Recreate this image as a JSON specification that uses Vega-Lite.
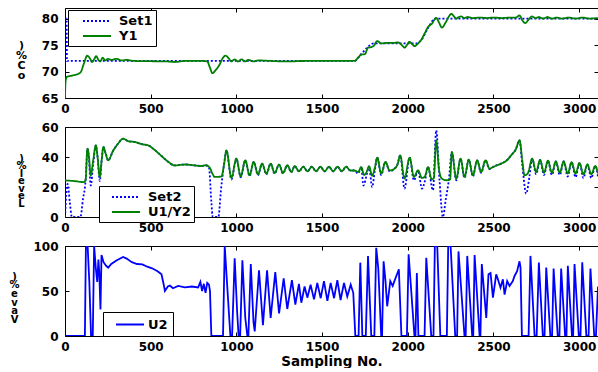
{
"$schema":"https://vega.github.io/schema/vega-lite/v6.json",
"padding":{"left":8,"top":7,"right":0,"bottom":0},
"background":"white",
"spacing":29,
"bounds":"flush",
"resolve":{"scale":{"color":"independent","strokeDash":"independent"},"legend":{"color":"independent","strokeDash":"independent"}},
"datasets":{
"p1":[
{"k":"Set1","x":0,"y":80},{"k":"Set1","x":10,"y":80},{"k":"Set1","x":11,"y":72},{"k":"Set1","x":1690,"y":72},{"k":"Set1","x":1720,"y":73},{"k":"Set1","x":1760,"y":74.4},{"k":"Set1","x":1800,"y":75.3},{"k":"Set1","x":2050,"y":75.3},{"k":"Set1","x":2080,"y":76},{"k":"Set1","x":2120,"y":78.3},{"k":"Set1","x":2160,"y":80},{"k":"Set1","x":3110,"y":80},
{"k":"Y1","x":0,"y":65},{"k":"Y1","x":3,"y":68},{"k":"Y1","x":10,"y":69},{"k":"Y1","x":50,"y":69.3},{"k":"Y1","x":90,"y":69.8},{"k":"Y1","x":110,"y":71.5},{"k":"Y1","x":130,"y":73},{"k":"Y1","x":145,"y":72.5},{"k":"Y1","x":158,"y":71.8},{"k":"Y1","x":170,"y":72.3},{"k":"Y1","x":182,"y":72.9},{"k":"Y1","x":195,"y":72.2},{"k":"Y1","x":205,"y":71.9},{"k":"Y1","x":220,"y":72.6},{"k":"Y1","x":235,"y":72.1},{"k":"Y1","x":250,"y":72.4},{"k":"Y1","x":270,"y":72.2},{"k":"Y1","x":300,"y":72.4},{"k":"Y1","x":330,"y":72.1},{"k":"Y1","x":360,"y":72.2},{"k":"Y1","x":400,"y":72},{"k":"Y1","x":500,"y":71.95},{"k":"Y1","x":600,"y":71.9},{"k":"Y1","x":640,"y":71.8},{"k":"Y1","x":700,"y":72},{"k":"Y1","x":800,"y":72},{"k":"Y1","x":830,"y":71.9},{"k":"Y1","x":845,"y":70.8},{"k":"Y1","x":860,"y":69.7},{"k":"Y1","x":880,"y":70.3},{"k":"Y1","x":900,"y":71.2},{"k":"Y1","x":920,"y":72.5},{"k":"Y1","x":936,"y":73},{"k":"Y1","x":955,"y":72.5},{"k":"Y1","x":970,"y":71.9},{"k":"Y1","x":990,"y":72.3},{"k":"Y1","x":1010,"y":71.9},{"k":"Y1","x":1030,"y":72.3},{"k":"Y1","x":1050,"y":71.9},{"k":"Y1","x":1070,"y":72.2},{"k":"Y1","x":1100,"y":71.9},{"k":"Y1","x":1130,"y":72.1},{"k":"Y1","x":1200,"y":72},{"k":"Y1","x":1300,"y":71.9},{"k":"Y1","x":1400,"y":72},{"k":"Y1","x":1500,"y":72},{"k":"Y1","x":1600,"y":72},{"k":"Y1","x":1690,"y":72},{"k":"Y1","x":1710,"y":72.6},{"k":"Y1","x":1730,"y":73.2},{"k":"Y1","x":1750,"y":73.3},{"k":"Y1","x":1768,"y":74.5},{"k":"Y1","x":1785,"y":74.6},{"k":"Y1","x":1800,"y":74.8},{"k":"Y1","x":1822,"y":75.75},{"k":"Y1","x":1845,"y":75.3},{"k":"Y1","x":1880,"y":75.4},{"k":"Y1","x":1920,"y":75.4},{"k":"Y1","x":1943,"y":75.5},{"k":"Y1","x":1965,"y":75},{"k":"Y1","x":1981,"y":74.5},{"k":"Y1","x":1995,"y":75},{"k":"Y1","x":2010,"y":75.6},{"k":"Y1","x":2025,"y":75.2},{"k":"Y1","x":2040,"y":74.8},{"k":"Y1","x":2060,"y":75.3},{"k":"Y1","x":2079,"y":76},{"k":"Y1","x":2100,"y":77.3},{"k":"Y1","x":2118,"y":78.4},{"k":"Y1","x":2140,"y":79},{"k":"Y1","x":2166,"y":80.15},{"k":"Y1","x":2183,"y":79.2},{"k":"Y1","x":2199,"y":78.3},{"k":"Y1","x":2220,"y":79.2},{"k":"Y1","x":2240,"y":80.4},{"k":"Y1","x":2254,"y":80.9},{"k":"Y1","x":2270,"y":80.4},{"k":"Y1","x":2283,"y":80},{"k":"Y1","x":2298,"y":80.3},{"k":"Y1","x":2312,"y":80.4},{"k":"Y1","x":2330,"y":80.1},{"k":"Y1","x":2350,"y":80.3},{"k":"Y1","x":2380,"y":80.1},{"k":"Y1","x":2420,"y":80.2},{"k":"Y1","x":2460,"y":80.1},{"k":"Y1","x":2500,"y":80.2},{"k":"Y1","x":2550,"y":80.1},{"k":"Y1","x":2600,"y":80.2},{"k":"Y1","x":2630,"y":80.2},{"k":"Y1","x":2652,"y":80.6},{"k":"Y1","x":2668,"y":79.7},{"k":"Y1","x":2685,"y":79.15},{"k":"Y1","x":2705,"y":79.8},{"k":"Y1","x":2724,"y":80.4},{"k":"Y1","x":2745,"y":80.1},{"k":"Y1","x":2765,"y":80.3},{"k":"Y1","x":2790,"y":80},{"k":"Y1","x":2815,"y":80.3},{"k":"Y1","x":2840,"y":80},{"k":"Y1","x":2870,"y":80.2},{"k":"Y1","x":2900,"y":80},{"k":"Y1","x":2940,"y":80.2},{"k":"Y1","x":2980,"y":80},{"k":"Y1","x":3020,"y":80.2},{"k":"Y1","x":3060,"y":80},{"k":"Y1","x":3110,"y":80.1}
],
"p2":[
{"k":"Set2","x":0,"y":0},{"k":"Set2","x":15,"y":22},{"k":"Set2","x":28,"y":10},{"k":"Set2","x":40,"y":0},{"k":"Set2","x":90,"y":0},{"k":"Set2","x":105,"y":12},{"k":"Set2","x":120,"y":24},{"k":"Set2","x":131,"y":45.6},{"k":"Set2","x":140,"y":38},{"k":"Set2","x":150,"y":21},{"k":"Set2","x":165,"y":36},{"k":"Set2","x":180,"y":47.8},{"k":"Set2","x":190,"y":40},{"k":"Set2","x":203,"y":24},{"k":"Set2","x":214,"y":38},{"k":"Set2","x":224,"y":46.7},{"k":"Set2","x":238,"y":42},{"k":"Set2","x":252,"y":37.8},{"k":"Set2","x":280,"y":44},{"k":"Set2","x":310,"y":49},{"k":"Set2","x":339,"y":52.2},{"k":"Set2","x":370,"y":50.5},{"k":"Set2","x":408,"y":50},{"k":"Set2","x":450,"y":48.5},{"k":"Set2","x":485,"y":47.8},{"k":"Set2","x":520,"y":45},{"k":"Set2","x":560,"y":41},{"k":"Set2","x":600,"y":37},{"k":"Set2","x":640,"y":34.4},{"k":"Set2","x":700,"y":35},{"k":"Set2","x":750,"y":34.5},{"k":"Set2","x":796,"y":34},{"k":"Set2","x":820,"y":34.5},{"k":"Set2","x":840,"y":33},{"k":"Set2","x":854,"y":10},{"k":"Set2","x":862,"y":0},{"k":"Set2","x":895,"y":0},{"k":"Set2","x":910,"y":18},{"k":"Set2","x":928,"y":35},{"k":"Set2","x":942,"y":44.4},{"k":"Set2","x":971,"y":25},{"k":"Set2","x":1000,"y":38.9},{"k":"Set2","x":1025,"y":26.5},{"k":"Set2","x":1052,"y":37.8},{"k":"Set2","x":1077,"y":27.3},{"k":"Set2","x":1101,"y":36.7},{"k":"Set2","x":1126,"y":28},{"k":"Set2","x":1150,"y":35.6},{"k":"Set2","x":1175,"y":28.5},{"k":"Set2","x":1200,"y":35.6},{"k":"Set2","x":1223,"y":29},{"k":"Set2","x":1249,"y":34.9},{"k":"Set2","x":1272,"y":29},{"k":"Set2","x":1297,"y":34.5},{"k":"Set2","x":1321,"y":29.8},{"k":"Set2","x":1340,"y":34},{"k":"Set2","x":1365,"y":30.3},{"k":"Set2","x":1390,"y":33.5},{"k":"Set2","x":1415,"y":30.5},{"k":"Set2","x":1440,"y":33.5},{"k":"Set2","x":1465,"y":30.5},{"k":"Set2","x":1490,"y":33.5},{"k":"Set2","x":1515,"y":30.5},{"k":"Set2","x":1540,"y":33.5},{"k":"Set2","x":1565,"y":30.5},{"k":"Set2","x":1590,"y":33.5},{"k":"Set2","x":1615,"y":30.5},{"k":"Set2","x":1640,"y":33.5},{"k":"Set2","x":1665,"y":31},{"k":"Set2","x":1690,"y":31},{"k":"Set2","x":1710,"y":29},{"k":"Set2","x":1729,"y":33.3},{"k":"Set2","x":1741,"y":21},{"k":"Set2","x":1760,"y":28},{"k":"Set2","x":1774,"y":33.8},{"k":"Set2","x":1792,"y":20},{"k":"Set2","x":1808,"y":31},{"k":"Set2","x":1822,"y":39.6},{"k":"Set2","x":1845,"y":28},{"k":"Set2","x":1870,"y":36.7},{"k":"Set2","x":1894,"y":30.5},{"k":"Set2","x":1920,"y":32},{"k":"Set2","x":1940,"y":35},{"k":"Set2","x":1956,"y":41.1},{"k":"Set2","x":1981,"y":18.9},{"k":"Set2","x":2011,"y":39.6},{"k":"Set2","x":2036,"y":24.4},{"k":"Set2","x":2060,"y":31.1},{"k":"Set2","x":2083,"y":18.9},{"k":"Set2","x":2100,"y":24},{"k":"Set2","x":2118,"y":33.3},{"k":"Set2","x":2147,"y":17.8},{"k":"Set2","x":2166,"y":57.8},{"k":"Set2","x":2185,"y":25},{"k":"Set2","x":2205,"y":0},{"k":"Set2","x":2222,"y":12},{"k":"Set2","x":2240,"y":25},{"k":"Set2","x":2257,"y":43.3},{"k":"Set2","x":2283,"y":24.5},{"k":"Set2","x":2308,"y":38.9},{"k":"Set2","x":2331,"y":26},{"k":"Set2","x":2356,"y":38.2},{"k":"Set2","x":2380,"y":27},{"k":"Set2","x":2405,"y":37.8},{"k":"Set2","x":2428,"y":29.5},{"k":"Set2","x":2454,"y":37.8},{"k":"Set2","x":2477,"y":32},{"k":"Set2","x":2500,"y":33.5},{"k":"Set2","x":2545,"y":35.6},{"k":"Set2","x":2580,"y":38},{"k":"Set2","x":2603,"y":41.1},{"k":"Set2","x":2630,"y":45},{"k":"Set2","x":2652,"y":51.1},{"k":"Set2","x":2668,"y":35},{"k":"Set2","x":2691,"y":15.6},{"k":"Set2","x":2710,"y":27},{"k":"Set2","x":2726,"y":38.9},{"k":"Set2","x":2749,"y":28.5},{"k":"Set2","x":2772,"y":38},{"k":"Set2","x":2795,"y":28},{"k":"Set2","x":2818,"y":37.5},{"k":"Set2","x":2841,"y":28},{"k":"Set2","x":2864,"y":37},{"k":"Set2","x":2887,"y":28},{"k":"Set2","x":2910,"y":37},{"k":"Set2","x":2933,"y":27},{"k":"Set2","x":2956,"y":36.5},{"k":"Set2","x":2979,"y":26.5},{"k":"Set2","x":3002,"y":36},{"k":"Set2","x":3025,"y":26},{"k":"Set2","x":3048,"y":35},{"k":"Set2","x":3071,"y":26},{"k":"Set2","x":3094,"y":34},{"k":"Set2","x":3110,"y":27},
{"k":"U1/Y2","x":0,"y":24.4},{"k":"U1/Y2","x":50,"y":24},{"k":"U1/Y2","x":110,"y":23.3},{"k":"U1/Y2","x":120,"y":24.5},{"k":"U1/Y2","x":131,"y":45.6},{"k":"U1/Y2","x":140,"y":40},{"k":"U1/Y2","x":150,"y":27.8},{"k":"U1/Y2","x":165,"y":38},{"k":"U1/Y2","x":180,"y":47.8},{"k":"U1/Y2","x":190,"y":40},{"k":"U1/Y2","x":203,"y":26.7},{"k":"U1/Y2","x":214,"y":38},{"k":"U1/Y2","x":224,"y":46.7},{"k":"U1/Y2","x":238,"y":42},{"k":"U1/Y2","x":252,"y":37.8},{"k":"U1/Y2","x":280,"y":44},{"k":"U1/Y2","x":310,"y":49},{"k":"U1/Y2","x":339,"y":52.2},{"k":"U1/Y2","x":370,"y":50.5},{"k":"U1/Y2","x":408,"y":50},{"k":"U1/Y2","x":450,"y":48.5},{"k":"U1/Y2","x":485,"y":47.8},{"k":"U1/Y2","x":520,"y":45},{"k":"U1/Y2","x":560,"y":41},{"k":"U1/Y2","x":600,"y":37},{"k":"U1/Y2","x":640,"y":34.4},{"k":"U1/Y2","x":700,"y":35},{"k":"U1/Y2","x":750,"y":34.5},{"k":"U1/Y2","x":796,"y":34},{"k":"U1/Y2","x":820,"y":34.5},{"k":"U1/Y2","x":844,"y":33},{"k":"U1/Y2","x":860,"y":29},{"k":"U1/Y2","x":873,"y":26.7},{"k":"U1/Y2","x":913,"y":27},{"k":"U1/Y2","x":928,"y":35},{"k":"U1/Y2","x":942,"y":44.4},{"k":"U1/Y2","x":971,"y":26.2},{"k":"U1/Y2","x":1000,"y":38.9},{"k":"U1/Y2","x":1025,"y":27.1},{"k":"U1/Y2","x":1052,"y":37.8},{"k":"U1/Y2","x":1077,"y":27.8},{"k":"U1/Y2","x":1101,"y":36.7},{"k":"U1/Y2","x":1126,"y":28.4},{"k":"U1/Y2","x":1150,"y":35.6},{"k":"U1/Y2","x":1175,"y":28.9},{"k":"U1/Y2","x":1200,"y":35.6},{"k":"U1/Y2","x":1223,"y":29.3},{"k":"U1/Y2","x":1249,"y":34.9},{"k":"U1/Y2","x":1272,"y":29.3},{"k":"U1/Y2","x":1297,"y":34.5},{"k":"U1/Y2","x":1321,"y":30},{"k":"U1/Y2","x":1340,"y":34},{"k":"U1/Y2","x":1365,"y":30.5},{"k":"U1/Y2","x":1390,"y":33.5},{"k":"U1/Y2","x":1415,"y":30.5},{"k":"U1/Y2","x":1440,"y":33.5},{"k":"U1/Y2","x":1465,"y":30.5},{"k":"U1/Y2","x":1490,"y":33.5},{"k":"U1/Y2","x":1515,"y":30.5},{"k":"U1/Y2","x":1540,"y":33.5},{"k":"U1/Y2","x":1565,"y":30.5},{"k":"U1/Y2","x":1590,"y":33.5},{"k":"U1/Y2","x":1615,"y":30.5},{"k":"U1/Y2","x":1640,"y":33.5},{"k":"U1/Y2","x":1665,"y":31},{"k":"U1/Y2","x":1690,"y":31},{"k":"U1/Y2","x":1710,"y":30},{"k":"U1/Y2","x":1729,"y":33.3},{"k":"U1/Y2","x":1745,"y":28},{"k":"U1/Y2","x":1760,"y":30},{"k":"U1/Y2","x":1774,"y":33.8},{"k":"U1/Y2","x":1792,"y":27.5},{"k":"U1/Y2","x":1808,"y":33},{"k":"U1/Y2","x":1822,"y":39.6},{"k":"U1/Y2","x":1845,"y":28.9},{"k":"U1/Y2","x":1870,"y":36.7},{"k":"U1/Y2","x":1894,"y":31},{"k":"U1/Y2","x":1920,"y":32},{"k":"U1/Y2","x":1940,"y":35},{"k":"U1/Y2","x":1956,"y":41.1},{"k":"U1/Y2","x":1981,"y":25.6},{"k":"U1/Y2","x":2011,"y":39.6},{"k":"U1/Y2","x":2036,"y":26.7},{"k":"U1/Y2","x":2060,"y":31.1},{"k":"U1/Y2","x":2083,"y":26},{"k":"U1/Y2","x":2100,"y":27},{"k":"U1/Y2","x":2118,"y":33.3},{"k":"U1/Y2","x":2140,"y":25},{"k":"U1/Y2","x":2152,"y":26},{"k":"U1/Y2","x":2166,"y":51.1},{"k":"U1/Y2","x":2182,"y":32},{"k":"U1/Y2","x":2199,"y":25.6},{"k":"U1/Y2","x":2225,"y":24.5},{"k":"U1/Y2","x":2247,"y":25},{"k":"U1/Y2","x":2257,"y":43.3},{"k":"U1/Y2","x":2283,"y":25.6},{"k":"U1/Y2","x":2308,"y":38.9},{"k":"U1/Y2","x":2331,"y":26.7},{"k":"U1/Y2","x":2356,"y":38.2},{"k":"U1/Y2","x":2380,"y":27.8},{"k":"U1/Y2","x":2405,"y":37.8},{"k":"U1/Y2","x":2428,"y":30},{"k":"U1/Y2","x":2454,"y":37.8},{"k":"U1/Y2","x":2477,"y":32.2},{"k":"U1/Y2","x":2500,"y":33.5},{"k":"U1/Y2","x":2545,"y":35.6},{"k":"U1/Y2","x":2580,"y":38},{"k":"U1/Y2","x":2603,"y":41.1},{"k":"U1/Y2","x":2630,"y":45},{"k":"U1/Y2","x":2652,"y":51.1},{"k":"U1/Y2","x":2668,"y":38},{"k":"U1/Y2","x":2681,"y":27.8},{"k":"U1/Y2","x":2700,"y":29},{"k":"U1/Y2","x":2726,"y":38.9},{"k":"U1/Y2","x":2749,"y":30},{"k":"U1/Y2","x":2772,"y":38},{"k":"U1/Y2","x":2795,"y":29.5},{"k":"U1/Y2","x":2818,"y":37.5},{"k":"U1/Y2","x":2841,"y":29.5},{"k":"U1/Y2","x":2864,"y":37},{"k":"U1/Y2","x":2887,"y":29.5},{"k":"U1/Y2","x":2910,"y":37},{"k":"U1/Y2","x":2933,"y":29},{"k":"U1/Y2","x":2956,"y":36.5},{"k":"U1/Y2","x":2979,"y":29},{"k":"U1/Y2","x":3002,"y":36},{"k":"U1/Y2","x":3025,"y":28.5},{"k":"U1/Y2","x":3048,"y":35},{"k":"U1/Y2","x":3071,"y":28.5},{"k":"U1/Y2","x":3094,"y":34},{"k":"U1/Y2","x":3110,"y":29}
],
"p3":[
{"k":"U2","x":0,"y":0},{"k":"U2","x":116,"y":0},{"k":"U2","x":122,"y":100},{"k":"U2","x":132,"y":100},{"k":"U2","x":142,"y":60},{"k":"U2","x":152,"y":0},{"k":"U2","x":162,"y":0},{"k":"U2","x":170,"y":100},{"k":"U2","x":180,"y":75},{"k":"U2","x":188,"y":60},{"k":"U2","x":195,"y":85},{"k":"U2","x":200,"y":70},{"k":"U2","x":207,"y":29.6},{"k":"U2","x":213,"y":90},{"k":"U2","x":225,"y":82},{"k":"U2","x":240,"y":78},{"k":"U2","x":252,"y":76},{"k":"U2","x":270,"y":80},{"k":"U2","x":300,"y":84},{"k":"U2","x":339,"y":87.8},{"k":"U2","x":360,"y":86},{"k":"U2","x":390,"y":82},{"k":"U2","x":420,"y":80},{"k":"U2","x":451,"y":79.6},{"k":"U2","x":480,"y":77},{"k":"U2","x":508,"y":75.2},{"k":"U2","x":540,"y":72},{"k":"U2","x":563,"y":68.5},{"k":"U2","x":575,"y":58},{"k":"U2","x":583,"y":50},{"k":"U2","x":600,"y":55},{"k":"U2","x":612,"y":56},{"k":"U2","x":630,"y":53},{"k":"U2","x":660,"y":55.6},{"k":"U2","x":700,"y":54},{"k":"U2","x":740,"y":55},{"k":"U2","x":777,"y":54},{"k":"U2","x":790,"y":60},{"k":"U2","x":800,"y":50},{"k":"U2","x":810,"y":58},{"k":"U2","x":820,"y":48},{"k":"U2","x":830,"y":59},{"k":"U2","x":840,"y":57},{"k":"U2","x":846,"y":50},{"k":"U2","x":854,"y":0},{"k":"U2","x":922,"y":0},{"k":"U2","x":932,"y":100},{"k":"U2","x":950,"y":45},{"k":"U2","x":965,"y":0},{"k":"U2","x":975,"y":0},{"k":"U2","x":990,"y":86.3},{"k":"U2","x":1005,"y":25},{"k":"U2","x":1013,"y":0},{"k":"U2","x":1022,"y":0},{"k":"U2","x":1035,"y":84},{"k":"U2","x":1052,"y":20},{"k":"U2","x":1064,"y":0},{"k":"U2","x":1070,"y":0},{"k":"U2","x":1084,"y":80},{"k":"U2","x":1100,"y":15},{"k":"U2","x":1107,"y":5},{"k":"U2","x":1132,"y":73},{"k":"U2","x":1155,"y":12},{"k":"U2","x":1179,"y":73},{"k":"U2","x":1200,"y":20},{"k":"U2","x":1227,"y":71},{"k":"U2","x":1249,"y":25},{"k":"U2","x":1276,"y":64},{"k":"U2","x":1297,"y":30},{"k":"U2","x":1324,"y":62},{"k":"U2","x":1344,"y":35},{"k":"U2","x":1365,"y":58},{"k":"U2","x":1379,"y":37},{"k":"U2","x":1398,"y":55},{"k":"U2","x":1414,"y":42.6},{"k":"U2","x":1433,"y":57},{"k":"U2","x":1453,"y":40.7},{"k":"U2","x":1472,"y":59},{"k":"U2","x":1492,"y":42},{"k":"U2","x":1511,"y":61},{"k":"U2","x":1531,"y":39},{"k":"U2","x":1550,"y":59},{"k":"U2","x":1570,"y":42},{"k":"U2","x":1589,"y":62},{"k":"U2","x":1608,"y":40},{"k":"U2","x":1628,"y":59},{"k":"U2","x":1647,"y":44},{"k":"U2","x":1667,"y":57},{"k":"U2","x":1682,"y":48},{"k":"U2","x":1694,"y":0},{"k":"U2","x":1713,"y":0},{"k":"U2","x":1723,"y":81.5},{"k":"U2","x":1735,"y":0},{"k":"U2","x":1755,"y":0},{"k":"U2","x":1768,"y":88.9},{"k":"U2","x":1787,"y":0},{"k":"U2","x":1805,"y":0},{"k":"U2","x":1816,"y":98},{"k":"U2","x":1828,"y":75},{"k":"U2","x":1845,"y":0},{"k":"U2","x":1850,"y":0},{"k":"U2","x":1859,"y":83},{"k":"U2","x":1870,"y":61},{"k":"U2","x":1880,"y":33},{"k":"U2","x":1898,"y":61},{"k":"U2","x":1912,"y":55.6},{"k":"U2","x":1922,"y":61},{"k":"U2","x":1940,"y":70},{"k":"U2","x":1948,"y":74},{"k":"U2","x":1963,"y":0},{"k":"U2","x":1995,"y":0},{"k":"U2","x":2005,"y":90.7},{"k":"U2","x":2039,"y":0},{"k":"U2","x":2045,"y":0},{"k":"U2","x":2053,"y":70},{"k":"U2","x":2062,"y":0},{"k":"U2","x":2098,"y":0},{"k":"U2","x":2108,"y":87},{"k":"U2","x":2137,"y":0},{"k":"U2","x":2150,"y":0},{"k":"U2","x":2158,"y":100},{"k":"U2","x":2172,"y":100},{"k":"U2","x":2190,"y":0},{"k":"U2","x":2228,"y":0},{"k":"U2","x":2236,"y":100},{"k":"U2","x":2250,"y":100},{"k":"U2","x":2277,"y":0},{"k":"U2","x":2288,"y":0},{"k":"U2","x":2296,"y":94},{"k":"U2","x":2331,"y":0},{"k":"U2","x":2338,"y":0},{"k":"U2","x":2347,"y":89},{"k":"U2","x":2376,"y":0},{"k":"U2","x":2382,"y":0},{"k":"U2","x":2390,"y":90},{"k":"U2","x":2419,"y":0},{"k":"U2","x":2424,"y":0},{"k":"U2","x":2432,"y":80},{"k":"U2","x":2458,"y":20},{"k":"U2","x":2471,"y":68.5},{"k":"U2","x":2483,"y":70},{"k":"U2","x":2497,"y":42.6},{"k":"U2","x":2516,"y":68.5},{"k":"U2","x":2526,"y":63},{"k":"U2","x":2541,"y":53.7},{"k":"U2","x":2555,"y":63},{"k":"U2","x":2565,"y":46},{"k":"U2","x":2580,"y":61},{"k":"U2","x":2594,"y":55.6},{"k":"U2","x":2613,"y":61},{"k":"U2","x":2623,"y":66.7},{"k":"U2","x":2638,"y":72},{"k":"U2","x":2652,"y":83},{"k":"U2","x":2658,"y":76},{"k":"U2","x":2666,"y":0},{"k":"U2","x":2705,"y":0},{"k":"U2","x":2716,"y":89},{"k":"U2","x":2740,"y":0},{"k":"U2","x":2752,"y":0},{"k":"U2","x":2765,"y":81.5},{"k":"U2","x":2788,"y":0},{"k":"U2","x":2798,"y":0},{"k":"U2","x":2808,"y":76},{"k":"U2","x":2832,"y":0},{"k":"U2","x":2842,"y":0},{"k":"U2","x":2851,"y":75},{"k":"U2","x":2875,"y":0},{"k":"U2","x":2885,"y":0},{"k":"U2","x":2895,"y":75},{"k":"U2","x":2918,"y":0},{"k":"U2","x":2926,"y":0},{"k":"U2","x":2934,"y":78},{"k":"U2","x":2958,"y":0},{"k":"U2","x":2965,"y":0},{"k":"U2","x":2973,"y":80},{"k":"U2","x":2998,"y":0},{"k":"U2","x":3008,"y":0},{"k":"U2","x":3018,"y":82},{"k":"U2","x":3042,"y":0},{"k":"U2","x":3055,"y":0},{"k":"U2","x":3066,"y":75},{"k":"U2","x":3088,"y":0},{"k":"U2","x":3098,"y":0},{"k":"U2","x":3110,"y":55}
]
},
"vconcat":[
{
"width":533,"height":90,
"data":{"name":"p1"},
"layer":[
{"mark":{"type":"line","strokeWidth":1.8,"clip":true,"interpolate":"monotone"},
"encoding":{
"x":{"field":"x","type":"quantitative","scale":{"domain":[0,3110],"nice":false,"zero":false},"axis":{"values":[0,500,1000,1500,2000,2500,3000],"format":"d","title":null}},
"y":{"field":"y","type":"quantitative","scale":{"domain":[65,82],"nice":false,"zero":false},"axis":{"values":[65,70,75,80],"title":[")","%","C","o"],"titleX":-44,"titleY":31,"titleLineHeight":10}},
"color":{"field":"k","type":"nominal","scale":{"domain":["Set1","Y1"],"range":["#0000ff","#008000"]},"legend":{"title":null,"legendX":3,"legendY":2,"symbolOffset":18,"rowPadding":-5.5,"labelExpr":"datum.label + '\u00a0\u00a0\u00a0'"}},
"strokeDash":{"field":"k","type":"nominal","scale":{"domain":["Set1","Y1"],"range":[[2,2],[1,0]]},"legend":{"title":null,"legendX":3,"legendY":2,"symbolOffset":18,"rowPadding":-5.5,"labelExpr":"datum.label + '\u00a0\u00a0\u00a0'"}}
}},
{"mark":{"type":"line","strokeOpacity":0},
"encoding":{
"x":{"field":"x","type":"quantitative","axis":{"orient":"top","labels":false,"title":null,"values":[0,500,1000,1500,2000,2500,3000]}},
"y":{"field":"y","type":"quantitative","axis":{"orient":"right","labels":false,"title":null,"values":[65,70,75,80]}}
}}
],
"resolve":{"axis":{"x":"independent","y":"independent"}}
},
{
"width":533,"height":90,
"data":{"name":"p2"},
"layer":[
{"mark":{"type":"line","strokeWidth":1.8,"clip":true,"interpolate":"monotone"},
"encoding":{
"x":{"field":"x","type":"quantitative","scale":{"domain":[0,3110],"nice":false,"zero":false},"axis":{"values":[0,500,1000,1500,2000,2500,3000],"format":"d","title":null}},
"y":{"field":"y","type":"quantitative","scale":{"domain":[0,60],"nice":false},"axis":{"values":[0,20,40,60],"title":[")","%","l","e","v","e","L"],"titleX":-44,"titleY":26,"titleLineHeight":7.5,"titleFontSize":10}},
"color":{"field":"k","type":"nominal","scale":{"domain":["Set2","U1/Y2"],"range":["#0000ff","#008000"]},"legend":{"title":null,"legendX":34,"legendY":59,"rowPadding":-4,"labelExpr":"datum.label + '\u00a0\u00a0'"}},
"strokeDash":{"field":"k","type":"nominal","scale":{"domain":["Set2","U1/Y2"],"range":[[2,2],[1,0]]},"legend":{"title":null,"legendX":34,"legendY":59,"rowPadding":-4,"labelExpr":"datum.label + '\u00a0\u00a0'"}}
}},
{"mark":{"type":"line","strokeOpacity":0},
"encoding":{
"x":{"field":"x","type":"quantitative","axis":{"orient":"top","labels":false,"title":null,"values":[0,500,1000,1500,2000,2500,3000]}},
"y":{"field":"y","type":"quantitative","axis":{"orient":"right","labels":false,"title":null,"values":[0,20,40,60]}}
}}
],
"resolve":{"axis":{"x":"independent","y":"independent"}}
},
{
"width":533,"height":90,
"data":{"name":"p3"},
"layer":[
{"mark":{"type":"line","strokeWidth":1.8,"clip":true},
"encoding":{
"x":{"field":"x","type":"quantitative","scale":{"domain":[0,3110],"nice":false,"zero":false},"axis":{"values":[0,500,1000,1500,2000,2500,3000],"format":"d","title":"Sampling No.","titleFontSize":13.5,"titlePadding":2}},
"y":{"field":"y","type":"quantitative","scale":{"domain":[0,100],"nice":false},"axis":{"values":[0,50,100],"title":[")","%","e","v","a","V"],"titleX":-51,"titleY":25,"titleLineHeight":8.7,"titleFontSize":10}},
"color":{"field":"k","type":"nominal","scale":{"domain":["U2"],"range":["#0000ff"]},"legend":{"title":null,"legendX":38,"legendY":66,"labelOffset":10,"padding":4.5,"symbolOffset":14.5,"labelExpr":"datum.label + '\u00a0\u00a0\u00a0'"}}
}},
{"mark":{"type":"line","strokeOpacity":0},
"encoding":{
"x":{"field":"x","type":"quantitative","axis":{"orient":"top","labels":false,"title":null,"values":[0,500,1000,1500,2000,2500,3000]}},
"y":{"field":"y","type":"quantitative","axis":{"orient":"right","labels":false,"title":null,"values":[0,50,100]}}
}}
],
"resolve":{"axis":{"x":"independent","y":"independent"}}
}
],
"config":{
"font":"DejaVu Sans",
"view":{"stroke":"black","strokeWidth":1},
"axis":{"domain":false,"grid":false,"tickColor":"black","tickSize":-4,"tickWidth":1,"labelFont":"DejaVu Sans","labelFontWeight":"bold","labelFontSize":12,"labelColor":"black","labelPadding":9,"labelFlush":false,"labelOverlap":false,"titleFont":"DejaVu Sans","titleFontWeight":"bold","titleColor":"black"},
"axisY":{"titleAngle":0,"titleAlign":"center","titleBaseline":"top","titleFontSize":11,"labelPadding":11},
"legend":{"orient":"none","symbolType":"M-2,0H2","symbolSize":196,"symbolStrokeWidth":2,"symbolFillColor":"transparent","labelFont":"DejaVu Sans","labelFontWeight":"bold","labelFontSize":13,"labelColor":"black","strokeColor":"black","fillColor":"white","padding":3,"rowPadding":-4,"labelOffset":14,"symbolOffset":16}
}
}
